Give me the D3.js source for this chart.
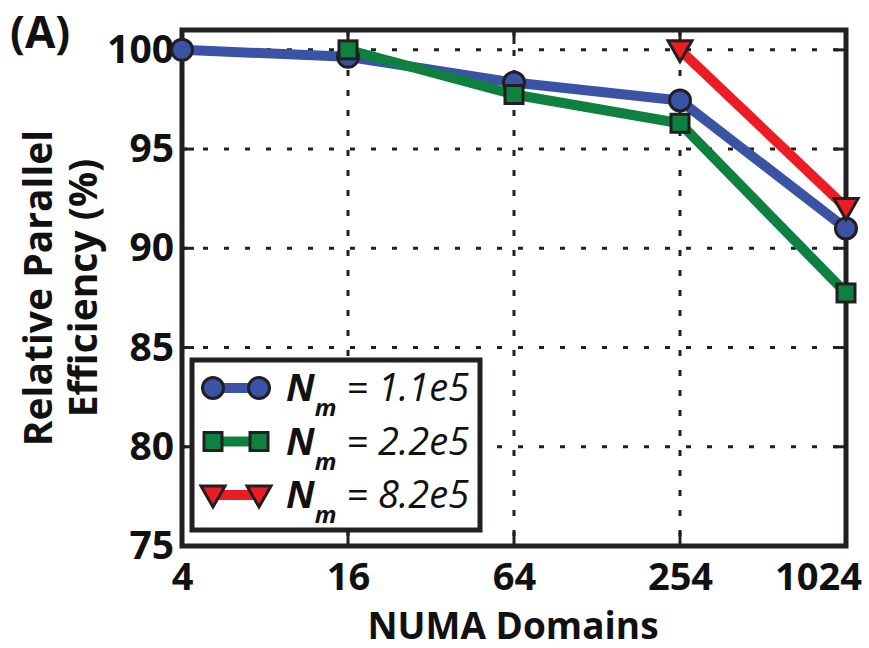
<!DOCTYPE html>
<html><head><meta charset="utf-8">
<script src="https://cdn.jsdelivr.net/npm/d3@7"></script>
<style>body{margin:0;background:#fff}svg{display:block}</style>
</head><body>
<svg id="c" width="869" height="648"></svg>
<script>
const categories = ["4","16","64","254","1024"];
const yTicks = [75,80,85,90,95,100];
const seriesNames = ["1.1e5","2.2e5","8.2e5"];
const blueValues = [100, 99.65, 98.35, 97.45, 91.0];
const greenValues = [null, 100, 97.75, 96.3, 87.75];
const redValues = [null, null, null, 100, 92.05];
const colors = ["#3a53a4","#0e8140","#ec1c24"];
const symbols = ["circle","square","triangle"];

const svg = d3.select("#c");
const L=182, R=846, T=30, B=546;
const x = d3.scalePoint().domain(categories).range([L,R]);
const y = d3.scaleLinear().domain([75,101]).range([B,T]);
const font = "'Open Sans', sans-serif";
const ink = "#231f20";

// grid
const g = svg.append("g");
g.selectAll(".hg").data(yTicks.filter(v=>v>75&&v<=100)).enter().append("line")
  .attr("x1",L).attr("x2",R).attr("y1",d=>y(d)).attr("y2",d=>y(d))
  .attr("stroke",ink).attr("stroke-width",3).attr("stroke-dasharray","5,16");
g.selectAll(".vg").data(categories.slice(1,4)).enter().append("line")
  .attr("y1",T).attr("y2",B).attr("x1",d=>x(d)).attr("x2",d=>x(d))
  .attr("stroke",ink).attr("stroke-width",3).attr("stroke-dasharray","6,14");

// axes with d3
const xAxis = d3.axisBottom(x).tickSize(0).tickPadding(17);
const ax = svg.append("g").attr("transform",`translate(0,${B})`).call(xAxis);
ax.select(".domain").remove();
ax.selectAll("text").attr("font-family",font).attr("font-weight","bold").attr("font-size",38).attr("fill","#111").attr("dy","0.71em")
  .attr("dx",(d,i)=> i===categories.length-1 ? -28 : 0);
const yAxis = d3.axisLeft(y).tickValues(yTicks).tickSize(0).tickPadding(8);
const ay = svg.append("g").attr("transform",`translate(${L},0)`).call(yAxis);
ay.select(".domain").remove();
ay.selectAll("text").attr("font-family",font).attr("font-weight","bold").attr("font-size",39).attr("fill","#111");

// inner tick marks
categories.slice(1,4).forEach(c=>{
  svg.append("line").attr("x1",x(c)).attr("x2",x(c)).attr("y1",B).attr("y2",B-14).attr("stroke",ink).attr("stroke-width",3);
  svg.append("line").attr("x1",x(c)).attr("x2",x(c)).attr("y1",T).attr("y2",T+14).attr("stroke",ink).attr("stroke-width",3);
});
yTicks.filter(v=>v>75&&v<=100).forEach(v=>{
  svg.append("line").attr("x1",L).attr("x2",L+12).attr("y1",y(v)).attr("y2",y(v)).attr("stroke",ink).attr("stroke-width",3);
  svg.append("line").attr("x1",R).attr("x2",R-12).attr("y1",y(v)).attr("y2",y(v)).attr("stroke",ink).attr("stroke-width",3);
});

// frame
svg.append("rect").attr("x",L).attr("y",T).attr("width",R-L).attr("height",B-T)
  .attr("fill","none").attr("stroke",ink).attr("stroke-width",5);

// series
const allValues = [blueValues, greenValues, redValues];
const line = d3.line().defined(d=>d.v!=null).x(d=>x(d.c)).y(d=>y(d.v));
function marker(sel, type, color){
  if(type==="circle") sel.append("circle").attr("r",10.5);
  else if(type==="square") sel.append("rect").attr("x",-9).attr("y",-9).attr("width",18).attr("height",18);
  else sel.append("path").attr("d","M-12,-9 L12,-9 L0,12 Z");
  sel.selectAll("*").attr("fill",color).attr("stroke",ink).attr("stroke-width",3).attr("stroke-linejoin","miter");
}
allValues.forEach((vals,i)=>{
  const pts = categories.map((c,j)=>({c, v: vals[j]}));
  svg.append("path").datum(pts).attr("d",line).attr("fill","none")
    .attr("stroke",colors[i]).attr("stroke-width",10).attr("stroke-linejoin","round");
});
allValues.forEach((vals,i)=>{
  categories.forEach((c,j)=>{
    if(vals[j]==null) return;
    const m = svg.append("g").attr("transform",`translate(${x(c)},${y(vals[j])})`);
    marker(m, symbols[i], colors[i]);
  });
});

// legend
const lg = svg.append("g");
lg.append("rect").attr("x",192).attr("y",360).attr("width",288).attr("height",170)
  .attr("fill","#fff").attr("stroke",ink).attr("stroke-width",5);
seriesNames.forEach((n,i)=>{
  const yy = 388 + i*53.5;
  lg.append("line").attr("x1",213).attr("x2",259).attr("y1",yy).attr("y2",yy).attr("stroke",colors[i]).attr("stroke-width",10);
  [213,259].forEach(xx=>{
    const m = lg.append("g").attr("transform",`translate(${xx},${yy})`);
    marker(m, symbols[i], colors[i]);
  });
  const t = lg.append("text").attr("x",286).attr("y",yy+13).attr("font-family",font).attr("font-size",38).attr("fill","#111");
  t.append("tspan").attr("font-weight","bold").attr("font-style","italic").text("N");
  t.append("tspan").attr("font-weight","bold").attr("font-style","italic").attr("font-size",24).attr("dy",15).text("m");
  t.append("tspan").attr("dy",-15).attr("font-style","italic").text(" = " + n);
});

// labels
svg.append("text").attr("x",10).attr("y",48).attr("font-family",font).attr("font-weight","bold").attr("font-size",44).attr("fill","#111").text("(A)");
svg.append("text").attr("x",(L+R)/2 - 1).attr("y",638.5).attr("text-anchor","middle").attr("font-family",font).attr("font-weight","bold").attr("font-size",37).attr("fill","#111").text("NUMA Domains");
const yl = svg.append("text").attr("transform",`translate(52,${(T+B)/2}) rotate(-90)`).attr("text-anchor","middle").attr("font-family",font).attr("font-weight","bold").attr("font-size",39).attr("fill","#111");
yl.append("tspan").attr("x",0).attr("dy",0).text("Relative Parallel");
yl.append("tspan").attr("x",0).attr("dy",45).text("Efficiency (%)");
</script>
</body></html>
